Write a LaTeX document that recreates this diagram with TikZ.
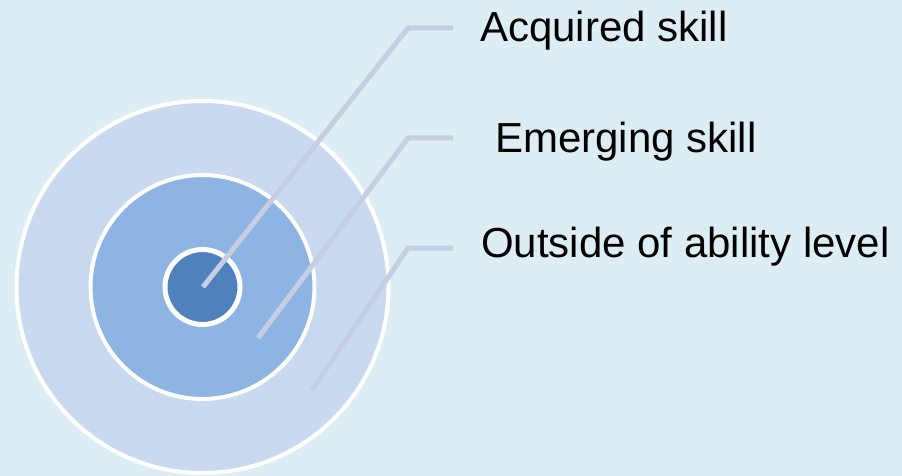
\documentclass[tikz,border=0pt]{standalone}
\usepackage{fontspec}
\setmainfont{Liberation Sans}
\usepackage{xcolor}
\usepackage{tikz}
\usetikzlibrary{positioning,calc}
\definecolor{paleback}{RGB}{220, 238, 244}
\definecolor{outerblue}{RGB}{200, 217, 240}
\definecolor{midblue}{RGB}{142, 180, 227}
\definecolor{coreblue}{RGB}{79, 129, 189}
\definecolor{leadergrey}{RGB}{197, 206, 226}

\begin{document}
\begin{tikzpicture}[x=1pt, y=-1pt]
    % Background
    \fill[paleback] (0,0) rectangle (902,476);
    \useasboundingbox (0,0) rectangle (902,476);

    % Target rings
    \coordinate (O) at (202.5, 287);
    \filldraw[fill=outerblue, draw=white, line width=4pt] (O) circle (186);
    \filldraw[fill=midblue, draw=white, line width=4pt] (O) circle (112);
    \filldraw[fill=coreblue, draw=white, line width=5pt] (O) circle (37.5);

    % Labels
    \node[anchor=base west, inner sep=0pt, font=\fontsize{42}{50}\selectfont] (acq) at (480, 42) {Acquired skill};
    \node[anchor=base west, inner sep=0pt, font=\fontsize{42}{50}\selectfont] (emg) at (495, 153) {Emerging skill};
    \node[anchor=base west, inner sep=0pt, font=\fontsize{42}{50}\selectfont] (out) at (481, 257) {Outside of ability level};

    % Leader lines
    \coordinate (acqTip) at (203, 287);
    \coordinate (acqBend) at (408, 28);
    \coordinate (acqEnd) at (453, 28);
    \coordinate (emgTip) at (258, 338);
    \coordinate (emgBend) at (408, 138);
    \coordinate (emgEnd) at (453, 138);
    \coordinate (outTip) at (312, 390);
    \coordinate (outBend) at (408, 248);
    \coordinate (outEnd) at (453, 248);
    \draw[leadergrey, line width=5pt] (acqTip) -- (acqBend) -- (acqEnd);
    \draw[leadergrey, line width=5pt] (emgTip) -- (emgBend) -- (emgEnd);
    \draw[leadergrey, line width=5pt] (outTip) -- (outBend) -- (outEnd);
\end{tikzpicture}
\end{document}
